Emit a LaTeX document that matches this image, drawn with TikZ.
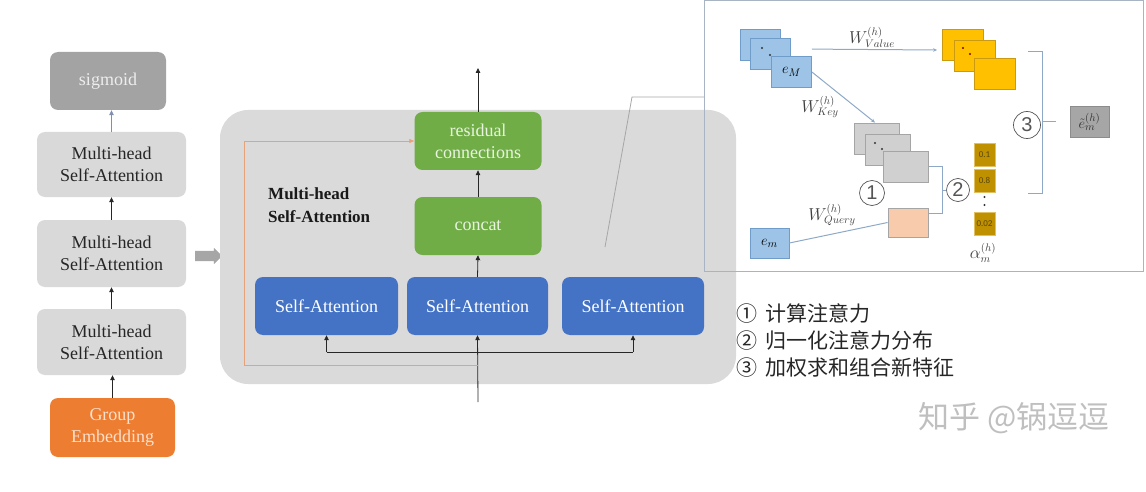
\documentclass[tikz,border=0pt]{standalone}
\usepackage{fontspec}
\setmainfont{Liberation Serif}
\setsansfont{Liberation Sans}
\newfontfamily\cjk{Noto Sans CJK SC}
\newfontfamily\calib{Carlito}
\usepackage{tikz}
\usetikzlibrary{arrows.meta,shapes.arrows,calc}

\definecolor{boxgray}{HTML}{D9D9D9}
\definecolor{biggray}{HTML}{DADADA}
\definecolor{sigfill}{HTML}{A3A3A3}
\definecolor{sigtext}{HTML}{EDEDED}
\definecolor{embfill}{HTML}{ED7D31}
\definecolor{embtext}{HTML}{FBE0CC}
\definecolor{resfill}{HTML}{70AD47}
\definecolor{restext}{HTML}{E8F4DE}
\definecolor{safill}{HTML}{4472C4}
\definecolor{resline}{HTML}{E8A27A}
\definecolor{callgray}{HTML}{A6A6A6}
\definecolor{framegray}{HTML}{A9B4C2}
\definecolor{cardblue}{HTML}{9DC3E6}
\definecolor{cardblueline}{HTML}{6F9CC9}
\definecolor{cardyellow}{HTML}{FFC000}
\definecolor{cardyellowline}{HTML}{C99A12}
\definecolor{cardgray}{HTML}{D0D0D0}
\definecolor{cardgrayline}{HTML}{A5A5A5}
\definecolor{peach}{HTML}{F8CBAD}
\definecolor{alphafill}{HTML}{BF9000}
\definecolor{alphaline}{HTML}{E0C060}
\definecolor{alphatext}{HTML}{5A4700}
\definecolor{linkblue}{HTML}{8EA9C8}
\definecolor{numgray}{HTML}{555555}
\definecolor{labelgray}{HTML}{404040}
\definecolor{sigarrow}{HTML}{7F8FB0}

\begin{document}
\begin{tikzpicture}[x=1pt, y=-1pt,
  every node/.style={inner sep=0pt, font=\fontsize{18}{22}\selectfont},
  stage/.style={rounded corners=8pt, fill=boxgray, align=center, text=black!85, minimum width=149pt, minimum height=66pt},
  block/.style={rounded corners=8pt, align=center, minimum height=58pt},
  arr/.style={-{Triangle[length=5pt,width=4.5pt]}, line width=0.8pt, black!85},
  card/.style={draw, line width=0.8pt, minimum width=40pt, minimum height=31pt, font=\fontsize{15}{17}\selectfont},
  alpha/.style={draw=alphaline, fill=alphafill, line width=0.8pt, minimum width=21pt, minimum height=23pt, text=alphatext, font=\calib\fontsize{9}{10}\selectfont},
  link/.style={draw=linkblue, line width=1pt},
  circnum/.style={circle, draw=numgray, line width=0.7pt, minimum size=25pt, text=numgray, font=\sffamily\fontsize{20}{20}\selectfont},
  wlabel/.style={text=labelgray, font=\fontsize{16}{18}\selectfont}]
  \useasboundingbox (0,0) rectangle (1146,492);

  \node[stage, fill=sigfill, text=sigtext, minimum width=116pt, minimum height=58pt] (sig) at (108,81) {sigmoid};
  \node[stage, minimum height=65pt] (mh1) at (111.5,164.5) {Multi-head\\Self-Attention};
  \node[stage, minimum height=67pt] (mh2) at (111.5,253.5) {Multi-head\\Self-Attention};
  \node[stage] (mh3) at (111.5,342) {Multi-head\\Self-Attention};
  \node[stage, fill=embfill, text=embtext, minimum width=125pt, minimum height=59pt] (emb) at (112.5,427.5) {Group\\Embedding};
  \draw[arr] (emb.north) -- (emb.north |- mh3.south);
  \draw[arr] (mh3.north) -- (mh2.south);
  \draw[arr] (mh2.north) -- (mh1.south);
  \draw[-{Triangle[length=5pt,width=4.5pt]}, line width=0.8pt, sigarrow] (mh1.north) -- (mh1.north |- sig.south);

  \node[single arrow, fill=callgray, inner sep=5pt, minimum height=27pt, single arrow head extend=3pt] (goto) at (206,256) {};

  \node[rounded corners=28pt, fill=biggray, minimum width=516pt, minimum height=274pt] (mhsa) at (478,247) {};
  \node[anchor=west, align=left, text=black!90, font=\bfseries\fontsize{17}{23}\selectfont] (title) at (268,205) {Multi-head\\Self-Attention};

  \node[block, fill=resfill, text=restext, minimum width=127pt] (res) at (478,141) {residual\\connections};
  \node[block, fill=resfill, text=restext, minimum width=127pt] (cat) at (478,226) {concat};
  \node[block, fill=safill, text=white, minimum width=143pt] (sa1) at (326.5,306) {Self-Attention};
  \node[block, fill=safill, text=white, minimum width=141pt] (sa2) at (477.5,306) {Self-Attention};
  \node[block, fill=safill, text=white, minimum width=142pt] (sa3) at (633,306) {Self-Attention};

  \coordinate (in) at (478,402);
  \coordinate (split) at (478,352);
  \coordinate (resin) at (478,365);
  \coordinate (resx) at (244,0);
  \coordinate (out) at (478,68);
  \draw[arr] (in) -- (sa2.south);
  \draw[line width=0.8pt, black!85] (sa1.south |- split) -- (sa3.south |- split);
  \draw[arr] (sa1.south |- split) -- (sa1.south);
  \draw[arr] (sa3.south |- split) -- (sa3.south);
  \draw[arr] (sa2.north) -- (cat.south);
  \draw[arr] (cat.north) -- (res.south);
  \draw[arr] (res.north) -- (out);
  \draw[resline, line width=0.8pt, -{Triangle[length=5pt,width=4pt]}] (resin) -- (resin -| resx) |- (res.west);

  \coordinate (callA) at (605,247);
  \coordinate (callB) at (632,97);
  \coordinate (callC) at (704,97);
  \draw[callgray, line width=0.8pt] (callA) -- (callB) -- (callC);
  \draw[framegray, line width=1pt] (704,1) rectangle (1143,271);

  \foreach \i/\x/\y in {1/760/45,2/770/53.5,3/791.5/72}
    \node[card, draw=cardblueline, fill=cardblue] (em\i) at (\x,\y) {};
  \node[font=\fontsize{15}{17}\selectfont] at (em3) {$e_M$};
  \foreach \i/\x/\y in {1/963/44.5,2/974.5/55.5,3/994.5/73.5}
    \node[card, draw=cardyellowline, fill=cardyellow, minimum width=41pt] (yl\i) at (\x,\y) {};
  \foreach \i/\x/\y in {1/877/138.5,2/888/149.5,3/906/166.5}
    \node[card, draw=cardgrayline, fill=cardgray, minimum width=45pt] (key\i) at (\x,\y) {};
  \foreach \n/\dx/\dy in {em2/-8/-5.5, em2/0/1.5, key2/-13/-6.5, key2/-6/-0.5}
    \fill[black!80] ($(\n.center)+(\dx,\dy)$) circle (1.1pt);
  \foreach \dx/\dy in {-11.5/-7.5, -4.5/-1.5}
    \fill[red!50!black] ($(yl2.center)+(\dx,\dy)$) circle (1.1pt);
  \node[card, draw=cardgrayline, fill=peach, minimum height=29pt] (qry) at (908,222.5) {};
  \node[card, draw=cardblueline, fill=cardblue, minimum width=39pt, minimum height=30pt] (emm) at (769.5,243) {$e_m$};

  \node[alpha] (a1) at (984.5,154.5) {0.1};
  \node[alpha] (a2) at (984.5,180.5) {0.8};
  \node[alpha] (a3) at (984.5,223.5) {0.02};
  \fill[black!80] (984.5,197) circle (1.1pt) (984.5,205) circle (1.1pt);
  \node[wlabel] (alab) at (983,253) {$\alpha_m^{(h)}$};

  \node[card, draw=black!45, fill=black!35, minimum width=39pt, text=black!80] (ebar) at (1089.5,121.5) {$\tilde{e}_m^{(h)}$};

  \draw[link, -{Stealth[length=4pt,width=3.5pt]}] ([yshift=7pt]em3.north east) -- ([xshift=-5pt,yshift=-5.5pt]yl1.west);
  \node[wlabel] (wval) at (872,37) {$W_{Value}^{(h)}$};
  \draw[link, -{Stealth[length=4pt,width=3.5pt]}] (em3.east) -- ([xshift=-2pt]key1.north);
  \node[wlabel] (wkey) at (820,107) {$W_{Key}^{(h)}$};
  \draw[link] (emm.east) -- (qry.west);
  \node[wlabel] (wqry) at (832,215) {$W_{Query}^{(h)}$};

  \node[circnum] (c1) at (872,193) {1};
  \coordinate (brk2) at (942,190);
  \node[circnum, minimum size=23pt] (c2) at (958,190) {2};
  \draw[link] (key3.east) -| (brk2) |- ([yshift=9pt]qry.east);
  \draw[link] (brk2) -- (c2.west);

  \coordinate (brk3top) at (1028,52);
  \coordinate (brk3bot) at (1028,193);
  \coordinate (brk3) at (1042,122);
  \coordinate (brk3tip) at (1056,122);
  \draw[link] (brk3top) -- (brk3top -| brk3) -- (brk3bot -| brk3) -- (brk3bot);
  \draw[link] (brk3) -- (brk3tip);
  \node[circnum, minimum size=27pt] (c3) at (1027,125) {3};

  \node[anchor=west, align=left, text=black!85, font=\cjk\fontsize{21}{27}\selectfont] (steps) at (736,340) {①\hspace{8pt}计算注意力\\②\hspace{8pt}归一化注意力分布\\③\hspace{8pt}加权求和组合新特征};
  \node[text=black!25, font=\cjk\fontsize{31}{32}\selectfont] (mark) at (1014,418) {知乎 @锅逗逗};
\end{tikzpicture}
\end{document}
